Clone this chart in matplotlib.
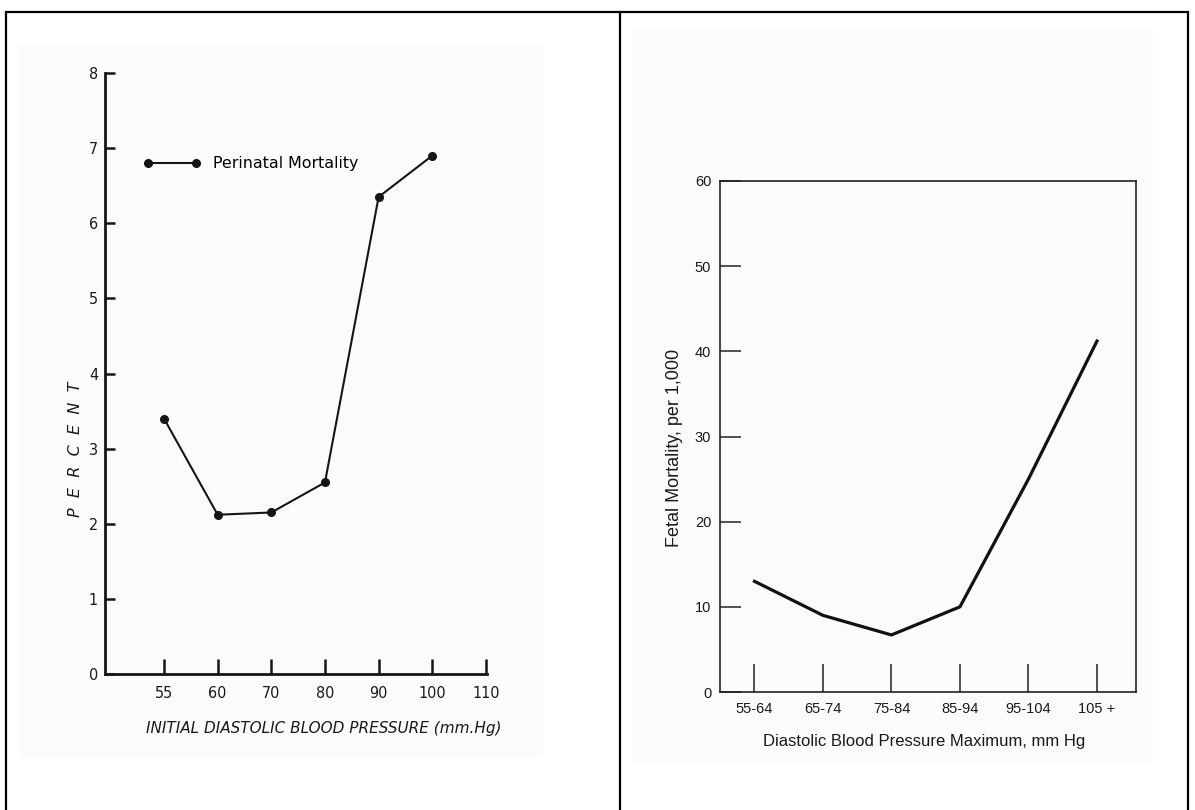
import matplotlib.pyplot as plt
from matplotlib.patches import Rectangle

# left chart: initial diastolic pressure vs perinatal mortality (%)
bp_labels = ['55', '60', '70', '80', '90', '100', '110']
perinatal = [3.4, 2.12, 2.15, 2.55, 6.35, 6.9]

# right chart: maximum diastolic pressure vs fetal mortality per 1,000
bp_groups = ['55-64', '65-74', '75-84', '85-94', '95-104', '105 +']
fetal = [13, 9, 6.7, 10, 25, 41.2]

W, H = 1195, 810
fig = plt.figure(figsize=(W / 100, H / 100), dpi=100)


def box(x0, y0, x1, y1):
    # pixel box (origin top left) -> figure fraction rect
    return [x0 / W, 1 - y1 / H, (x1 - x0) / W, (y1 - y0) / H]


# table frame around both panels (open at the bottom)
top = 1 - 12 / H
fig.add_artist(Rectangle((6 / W, -0.05), 1182 / W, top + 0.05, fill=False,
                         lw=1.6, ec='black', transform=fig.transFigure))
fig.add_artist(plt.Line2D([619.5 / W] * 2, [-0.05, top], lw=1.6, color='black',
                          transform=fig.transFigure))

# faint scanned page background
for b in [box(19, 44, 543, 757), box(633, 30, 1153, 762)]:
    fig.add_artist(Rectangle((b[0], b[1]), b[2], b[3], fc='#fbfbfb', ec='none',
                             transform=fig.transFigure, zorder=0))

# ---------------- left panel ----------------
ax1 = fig.add_axes(box(105, 73, 487, 674))
ax1.set_facecolor('none')
x1 = list(range(1, len(perinatal) + 1))
ax1.plot(x1, perinatal, '-o', color='#151515', lw=1.5, ms=5.5,
         label='Perinatal Mortality')
ax1.set_xlim(-0.1, 7.02)
ax1.set_ylim(0, 8)
ax1.set_xticks(range(1, len(bp_labels) + 1))
ax1.set_xticklabels(bp_labels)
ax1.set_yticks(range(0, 9))
for s in ['top', 'right']:
    ax1.spines[s].set_visible(False)
for s in ['left', 'bottom']:
    ax1.spines[s].set_linewidth(2.0)
    ax1.spines[s].set_color('#151515')
ax1.tick_params(direction='in', width=1.8, color='#151515', labelsize=11.5,
                labelcolor='#1a1a1a')
ax1.tick_params(axis='y', length=7, pad=5)
ax1.tick_params(axis='x', length=11, pad=9)
for lab in ax1.get_xticklabels() + ax1.get_yticklabels():
    lab.set_fontstretch('condensed')

ax1.set_xlabel('INITIAL DIASTOLIC BLOOD PRESSURE (mm.Hg)', fontsize=11,
               style='italic', color='#1a1a1a')
ax1.xaxis.set_label_coords(0.573, -0.0915)
ax1.xaxis.label.set_va('center')
ax1.set_ylabel('P  E  R  C  E  N  T', fontsize=11.5, style='italic',
               color='#1a1a1a')
ax1.yaxis.set_label_coords(-0.0785, 0.374)
ax1.yaxis.label.set_va('center')

ax1.legend(loc='center left', bbox_to_anchor=(0.1008, 0.8486), frameon=False,
           borderaxespad=0, borderpad=0, handlelength=3.6, handletextpad=0.8,
           numpoints=2, prop=dict(size=11.4))

# ---------------- right panel ----------------
ax2 = fig.add_axes(box(719.5, 181, 1136, 692))
ax2.set_facecolor('none')
ax2.plot(range(len(fetal)), fetal, '-', color='#111', lw=2.3,
         solid_joinstyle='round')
ax2.set_xlim(-0.51, 5.57)
ax2.set_ylim(0, 60)
ax2.set_xticks(range(len(bp_groups)))
ax2.set_xticklabels(bp_groups)
ax2.set_yticks(range(0, 61, 10))
for s in ax2.spines.values():
    s.set_linewidth(1.2)
    s.set_color('#222')
ax2.tick_params(direction='in', width=1.1, color='#222', labelsize=10.5,
                labelcolor='#1a1a1a')
ax2.tick_params(axis='y', length=15, pad=6)
ax2.tick_params(axis='x', length=20, pad=7)
for lab in ax2.get_xticklabels() + ax2.get_yticklabels():
    lab.set_family('Liberation Sans')

ax2.set_xlabel('Diastolic Blood Pressure Maximum, mm Hg', fontsize=12,
               family='Liberation Sans', color='#1a1a1a')
ax2.xaxis.set_label_coords(0.491, -0.0978)
ax2.xaxis.label.set_va('center')
ax2.set_ylabel('Fetal Mortality, per 1,000', fontsize=13,
               family='Liberation Sans', color='#1a1a1a')
ax2.yaxis.set_label_coords(-0.109, 0.4775)
ax2.yaxis.label.set_va('center')

fig.savefig('out.png', dpi=100)
